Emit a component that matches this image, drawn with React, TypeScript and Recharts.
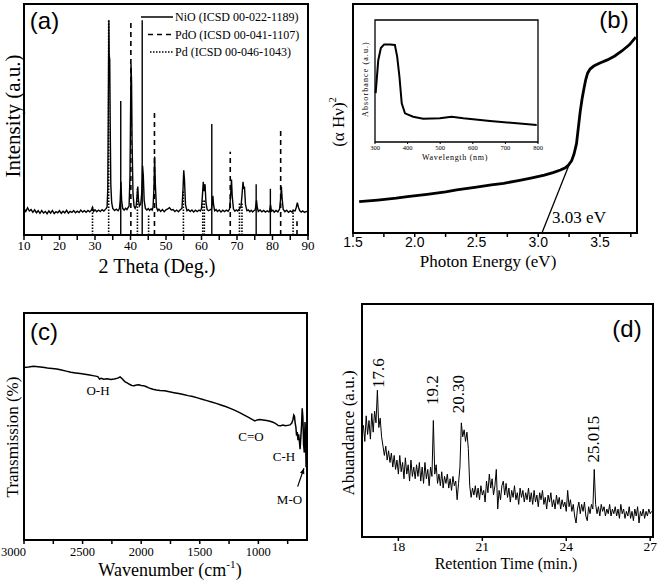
import React from "react";
import { LineChart, Line, XAxis, YAxis, ReferenceLine, ReferenceArea } from "recharts";

const serif = "'Liberation Serif', 'Times New Roman', serif";
const sans = "'Liberation Sans', Arial, sans-serif";

// ---- (a) XRD pattern: [2theta, intensity]
const xrdPattern: [number, number][] = [
  [10.0, 11.5], [10.5, 10.2], [11.0, 11.8], [11.5, 10.4], [12.0, 11.0], [12.5, 9.8], [13.0, 10.9], [13.5, 9.6],
  [14.0, 10.5], [14.5, 9.4], [15.0, 10.6], [15.5, 9.5], [16.0, 10.2], [16.5, 9.2], [17.0, 10.4], [17.5, 9.5],
  [18.0, 10.6], [18.5, 9.3], [19.0, 10.1], [19.5, 9.6], [20.0, 10.5], [20.5, 9.4], [21.0, 10.3], [21.5, 9.6],
  [22.0, 10.7], [22.5, 9.5], [23.0, 10.2], [23.5, 9.8], [24.0, 10.6], [24.5, 9.6], [25.0, 10.3], [25.5, 9.7],
  [26.0, 10.8], [26.5, 9.9], [27.0, 10.5], [27.5, 9.8], [28.0, 10.6], [28.5, 10.0], [29.0, 10.8], [29.3, 12.0],
  [29.6, 10.2], [30.0, 10.9], [30.5, 10.1], [31.0, 10.8], [31.5, 10.2], [32.0, 11.0], [32.5, 10.4], [33.0, 11.2],
  [33.4, 12], [33.6, 20], [33.75, 55], [33.9, 93], [34.0, 78], [34.15, 76], [34.3, 45], [34.45, 22], [34.7, 14],
  [35.0, 11.5], [35.5, 10.6], [36.0, 11.2], [36.5, 10.5], [36.9, 11.5], [37.1, 15], [37.3, 23], [37.5, 15],
  [37.8, 11.5], [38.2, 10.8], [38.6, 11.6], [39.0, 11.0], [39.3, 11.8], [39.6, 12.5], [39.85, 25], [40.0, 50],
  [40.15, 74], [40.3, 66], [40.45, 40], [40.7, 18], [41.0, 12.5], [41.3, 11.5], [41.6, 12.5], [41.85, 17],
  [42.05, 21], [42.25, 15], [42.5, 12.5], [42.7, 13], [42.9, 13.5], [43.15, 18], [43.4, 30], [43.6, 26],
  [43.85, 15], [44.2, 11.5], [44.6, 10.8], [45.0, 11.4], [45.4, 10.6], [45.8, 11.3], [46.1, 10.8], [46.35, 12],
  [46.6, 20], [46.8, 34], [47.0, 22], [47.3, 12], [47.7, 10.5], [48.0, 11.2], [48.5, 10.2], [49.0, 11.0],
  [49.5, 10.1], [50.0, 10.9], [50.5, 11.3], [51.0, 11.8], [51.5, 10.8], [52.0, 11.0], [52.5, 10.2], [53.0, 10.8],
  [53.5, 10.1], [54.0, 10.9], [54.5, 11.5], [54.8, 20], [55.0, 28], [55.2, 24], [55.5, 13], [55.9, 10.5],
  [56.3, 11.0], [56.8, 10.2], [57.3, 10.8], [57.8, 10.0], [58.3, 10.7], [58.8, 10.1], [59.3, 10.8], [59.7, 10.4],
  [60.0, 11.5], [60.3, 18], [60.5, 23], [60.7, 19], [61.0, 22], [61.25, 14], [61.6, 11], [62.0, 10.5],
  [62.4, 10.9], [62.8, 11.2], [63.05, 14], [63.2, 17], [63.4, 13], [63.7, 10.5], [64.1, 11], [64.5, 10.2],
  [65.0, 10.8], [65.5, 10.0], [66.0, 10.7], [66.5, 10.1], [67.0, 10.8], [67.5, 10.3], [67.9, 11.2], [68.2, 17],
  [68.45, 24], [68.65, 17], [69.0, 11.2], [69.4, 10.3], [69.8, 10.9], [70.2, 10.4], [70.6, 11.2], [71.1, 12],
  [71.4, 17], [71.7, 23], [71.9, 20], [72.1, 21], [72.4, 13], [72.8, 10.5], [73.2, 10.9], [73.6, 10.1],
  [74.0, 10.7], [74.4, 10.0], [74.8, 10.6], [75.1, 10.8], [75.35, 13], [75.5, 15], [75.7, 12], [76.0, 10.2],
  [76.5, 10.8], [77.0, 10.0], [77.5, 10.6], [78.0, 9.9], [78.5, 10.5], [79.0, 10.0], [79.2, 10.6], [79.45, 13],
  [79.7, 10.3], [80.1, 10.7], [80.5, 9.9], [81.0, 10.6], [81.5, 10.0], [82.0, 11.2], [82.3, 16], [82.5, 21],
  [82.7, 16], [83.0, 11.2], [83.5, 10.1], [84.0, 10.7], [84.5, 9.8], [85.0, 10.4], [85.5, 9.9], [86.0, 10.6],
  [86.4, 10.5], [86.7, 12], [87.0, 14], [87.3, 12], [87.7, 10.5], [88.1, 9.9], [88.5, 10.4], [89.0, 9.8],
  [89.5, 10.2], [90.0, 10.0],
];
const nioSticks: [number, number][] = [[37.25, 58], [43.3, 93], [62.9, 48], [75.4, 22], [79.4, 20]];
const pdoSticks: [number, number][] = [[40.1, 93], [46.75, 53], [68.1, 36], [82.3, 45], [86.9, 6]];
const pdSticks: [number, number][] = [
  [29.3, 12], [33.85, 93], [41.95, 20], [45.1, 9], [54.9, 19], [60.35, 15], [60.8, 15], [70.7, 14], [71.4, 14], [85.8, 11],
];
const xrdTicks = [10, 15, 20, 25, 30, 35, 40, 45, 50, 55, 60, 65, 70, 75, 80, 85, 90];

// ---- (b) Tauc plot and absorbance inset
const taucCurve: [number, number][] = [
  [1.55, 13.7], [1.7, 14.4], [1.85, 15.2], [1.94, 15.9], [2.1, 16.9], [2.25, 18.0], [2.34, 18.8], [2.5, 20.0],
  [2.62, 21.0], [2.72, 21.7], [2.85, 23.0], [2.95, 24.1], [3.05, 25.3], [3.12, 26.4], [3.18, 27.5], [3.22, 28.5],
  [3.245, 29.7], [3.27, 31.5], [3.29, 34.5], [3.31, 39], [3.325, 46], [3.34, 53], [3.355, 58.5], [3.37, 63],
  [3.385, 67], [3.4, 69.8], [3.42, 71.6], [3.45, 72.9], [3.5, 74.2], [3.56, 75.6], [3.62, 77.3], [3.68, 79.6],
  [3.74, 82.3], [3.79, 85.5],
];
const bandGapFit: [number, number][] = [[3.03, 0], [3.255, 30.5]];
const energyTicks = [1.5, 1.75, 2.0, 2.25, 2.5, 2.75, 3.0, 3.25, 3.5, 3.75];
const absorbance: [number, number][] = [
  [302, 40], [310, 67], [318, 77], [328, 80], [346, 80], [361, 79.5], [368, 70], [375, 53.5], [382, 31.7],
  [392, 23.5], [417, 20.7], [448, 19.1], [499, 19.4], [535, 20.7], [571, 19.4], [653, 17.2], [735, 15.3], [796, 13.9],
];
const wavelengthTicks = [300, 400, 500, 600, 700, 800];

// ---- (c) FTIR: [wavenumber, transmission]
const ftir: [number, number][] = [
  [3000, 76.0], [2960, 76.2], [2920, 76.5], [2880, 76.3], [2840, 76.1], [2800, 75.8], [2760, 75.6], [2720, 75.3],
  [2680, 74.9], [2640, 74.4], [2600, 73.9], [2560, 73.6], [2520, 73.3], [2480, 73.0], [2440, 72.7], [2400, 72.3],
  [2370, 72.0], [2355, 70.9], [2340, 71.2], [2320, 70.8], [2290, 71.0], [2260, 70.7], [2230, 70.9], [2200, 71.3],
  [2180, 71.8], [2160, 70.9], [2140, 69.8], [2120, 69.2], [2100, 68.6], [2080, 68.1], [2060, 68.0], [2040, 68.3],
  [2020, 68.4], [2000, 68.1], [1980, 68.0], [1960, 67.6], [1940, 67.1], [1920, 66.7], [1900, 66.4], [1870, 66.1],
  [1840, 65.9], [1800, 65.7], [1760, 65.3], [1720, 64.9], [1680, 64.5], [1640, 64.1], [1600, 63.6], [1560, 63.2],
  [1520, 62.6], [1480, 62.0], [1440, 61.4], [1400, 60.8], [1360, 60.2], [1320, 59.5], [1280, 58.8], [1240, 58.0],
  [1200, 57.1], [1160, 56.1], [1120, 55.0], [1080, 53.9], [1050, 53.0], [1030, 52.5], [1010, 52.9], [990, 53.1],
  [960, 52.9], [930, 52.6], [900, 52.3], [870, 51.8], [850, 51.2], [830, 50.4], [810, 50.3], [790, 50.6],
  [770, 50.3], [750, 50.5], [730, 50.7], [715, 51.5], [705, 53.0], [698, 55.0], [692, 54.5], [686, 51.5],
  [680, 49.8], [674, 46.0], [668, 47.5], [662, 44.0], [656, 46.5], [650, 43.5], [644, 40.0], [638, 45.0],
  [632, 50.0], [626, 58.0], [620, 54.0], [614, 42.0], [608, 38.5], [602, 52.0], [597, 45.0], [593, 32.0],
];
const wavenumberTicks = [3000, 2750, 2500, 2250, 2000, 1750, 1500, 1250, 1000, 750];
const moArrow: [number, number][] = [[665, 23.5], [611, 31.6]];

// ---- (d) GC-MS chromatogram, sampled every 0.05 min from 16.75 min
const gcStart = 16.75;
const gcStep = 0.05;
const gcAbundance = [
  48, 41, 52, 44, 50, 42, 53, 45, 54, 49, 63, 47, 51, 43, 39, 35, 39, 33, 37, 32,
  36, 30, 35, 29, 33, 27, 35, 28, 32, 25, 34, 27, 31, 24, 33, 26, 30, 25, 31, 26,
  32, 24, 30, 23, 32, 25, 29, 22, 30, 26, 50, 27, 31, 23, 27, 22, 28, 21, 26, 23,
  27, 21, 25, 20, 26, 22, 24, 16, 23, 30, 49, 43, 46, 41, 45, 38, 22, 17, 21, 18,
  22, 17, 21, 16, 22, 18, 20, 15, 24, 19, 27, 21, 25, 18, 22, 29, 12, 20, 16, 22,
  24, 18, 23, 17, 21, 15, 20, 17, 22, 16, 19, 14, 21, 17, 20, 15, 19, 16, 21, 15,
  19, 14, 20, 15, 18, 13, 19, 16, 20, 14, 17, 12, 18, 15, 19, 13, 16, 12, 18, 14,
  17, 12, 16, 13, 15, 11, 20, 13, 16, 11, 14, 9, 6, 12, 15, 10, 14, 11, 15, 9,
  7, 13, 10, 14, 12, 29, 14, 10, 13, 9, 14, 11, 13, 9, 12, 10, 14, 9, 12, 10,
  13, 9, 12, 8, 14, 10, 12, 8, 11, 9, 13, 8, 11, 7, 12, 9, 13, 6, 11, 9,
  12, 8, 11, 9, 12, 10, 11,
];
const retentionTicks = [18, 21, 24, 27];

const toPts = (a: [number, number][]) => a.map(([x, y]) => ({ x, y }));
const gcPts = gcAbundance.map((y, i) => ({ x: +(gcStart + i * gcStep).toFixed(2), y }));

const tickLine = { stroke: "#000", strokeWidth: 1.5 };

function Txt({ x, y, size, font = serif, rotate = 0, spacing = 0, children }: any) {
  return (
    <div
      style={{
        position: "absolute",
        left: x,
        top: y,
        transform: `translate(-50%, -50%) rotate(${rotate}deg)`,
        fontSize: size,
        fontFamily: font,
        lineHeight: 1,
        whiteSpace: "nowrap",
        color: "#000",
        letterSpacing: spacing,
      }}
    >
      {children}
    </div>
  );
}

function Sup({ children }: any) {
  return <sup style={{ fontSize: "0.62em", lineHeight: 0, verticalAlign: "0.7em" }}>{children}</sup>;
}

// plot frame as four bars around a plot area (page px)
function Frame({ l, t, r, b, w = 2, c = "#000" }: any) {
  const bar = (x: number, y: number, wd: number, ht: number, k: string) => (
    <div key={k} style={{ position: "absolute", left: x, top: y, width: wd, height: ht, background: c, zIndex: 10 }} />
  );
  return (
    <>
      {bar(l - w / 2, t - w / 2, r - l + w, w, "t")}
      {bar(l - w / 2, b - w / 2, r - l + w, w, "b")}
      {bar(l - w / 2, t - w / 2, w, b - t + w, "l")}
      {bar(r - w / 2, t - w / 2, w, b - t + w, "r")}
    </>
  );
}

function arrowShape(p: any) {
  const { x1, y1, x2, y2 } = p;
  const a = Math.atan2(y2 - y1, x2 - x1);
  const L = 6;
  const l = [x2 - L * Math.cos(a - 0.4), y2 - L * Math.sin(a - 0.4)];
  const r = [x2 - L * Math.cos(a + 0.4), y2 - L * Math.sin(a + 0.4)];
  return (
    <g>
      <line x1={x1} y1={y1} x2={x2} y2={y2} stroke="#000" strokeWidth={1.2} />
      <path d={`M${x2},${y2}L${l[0]},${l[1]}L${r[0]},${r[1]}Z`} fill="#000" />
    </g>
  );
}

function XrdPanel() {
  const stick = (s: [number, number], dash: string | undefined, w: number, key: string) => (
    <ReferenceLine
      key={key}
      segment={[{ x: s[0], y: 0 }, { x: s[0], y: s[1] }]}
      stroke="#000"
      strokeWidth={w}
      strokeDasharray={dash}
    />
  );
  return (
    <div style={{ position: "absolute", left: 0, top: 0 }}>
      <LineChart width={330} height={290} margin={{ top: 4, right: 22, bottom: 0, left: 24 }}>
        <XAxis
          type="number"
          dataKey="x"
          domain={[10, 90]}
          ticks={xrdTicks}
          interval={0}
          height={55}
          axisLine={false}
          tickLine={tickLine}
          tickSize={5}
          tickMargin={1}
          tick={{ fontSize: 13, fill: "#000", fontFamily: serif }}
          tickFormatter={(v) => (v % 10 === 0 ? String(v) : "")}
        />
        <YAxis hide type="number" domain={[0, 100]} />
        {pdSticks.map((s, i) => stick(s, "1.5 1.5", 1.6, "pd" + i))}
        {pdoSticks.map((s, i) => stick(s, "5 4", 1.6, "pdo" + i))}
        {nioSticks.map((s, i) => stick(s, undefined, 1.4, "nio" + i))}
        <Line data={toPts(xrdPattern)} dataKey="y" stroke="#000" strokeWidth={1.4} dot={false} isAnimationActive={false} />
      </LineChart>
    </div>
  );
}

function XrdLegend() {
  const rows = [
    { label: "NiO (ICSD 00-022-1189)", y: 17, x1: 141, dash: undefined },
    { label: "PdO (ICSD 00-041-1107)", y: 34.5, x1: 148, dash: "5 4" },
    { label: "Pd (ICSD 00-046-1043)", y: 52, x1: 150, dash: "1.5 1.5" },
  ];
  return (
    <svg style={{ position: "absolute", left: 0, top: 0 }} width={330} height={70}>
      {rows.map((r) => (
        <g key={r.label}>
          <line x1={r.x1} x2={173} y1={r.y} y2={r.y} stroke="#000" strokeWidth={1.5} strokeDasharray={r.dash} />
          <text x={175} y={r.y + 4} fontSize={12} fontFamily={serif} fill="#000">
            {r.label}
          </text>
        </g>
      ))}
    </svg>
  );
}

function TaucPanel() {
  return (
    <div style={{ position: "absolute", left: 330, top: 0 }}>
      <LineChart width={331} height={290} margin={{ top: 4, right: 24, bottom: 0, left: 23 }}>
        <XAxis
          type="number"
          dataKey="x"
          domain={[1.5, 3.8]}
          ticks={energyTicks}
          interval={0}
          height={57}
          axisLine={false}
          tickLine={tickLine}
          tickSize={4}
          tickMargin={0}
          tick={{ fontSize: 14, fill: "#000", fontFamily: sans }}
          tickFormatter={(v) => (Math.abs(v * 2 - Math.round(v * 2)) < 1e-6 ? v.toFixed(1) : "")}
        />
        <YAxis hide type="number" domain={[0, 100]} />
        <Line data={toPts(bandGapFit)} dataKey="y" stroke="#000" strokeWidth={1.3} dot={false} isAnimationActive={false} />
        <Line data={toPts(taucCurve)} dataKey="y" stroke="#000" strokeWidth={2.8} dot={false} isAnimationActive={false} />
      </LineChart>
    </div>
  );
}

function InsetPanel() {
  return (
    <div style={{ position: "absolute", left: 360, top: 14 }}>
      <LineChart width={190} height={150} margin={{ top: 6, right: 12, bottom: 0, left: 15 }}>
        <XAxis
          type="number"
          dataKey="x"
          domain={[300, 800]}
          ticks={wavelengthTicks}
          interval={0}
          height={22}
          axisLine={false}
          tickLine={{ stroke: "#000", strokeWidth: 1 }}
          tickSize={2}
          tickMargin={1}
          tick={{ fontSize: 6.5, fill: "#000", fontFamily: serif }}
        />
        <YAxis hide type="number" domain={[0, 100]} />
        <Line data={toPts(absorbance)} dataKey="y" stroke="#000" strokeWidth={2} dot={false} isAnimationActive={false} />
        <ReferenceArea x1={300} x2={800} y1={0} y2={100} stroke="#000" strokeWidth={1.3} fill="none" fillOpacity={0} />
      </LineChart>
    </div>
  );
}

function FtirPanel() {
  const tick = (p: any) => {
    const v = p.payload.value;
    const show = v % 500 === 0;
    return (
      <text
        x={v === 3000 ? p.x + 2 : p.x}
        y={p.y}
        dy="0.71em"
        textAnchor={v === 3000 ? "end" : "middle"}
        fontSize={12.5}
        fontFamily={serif}
        fill="#000"
      >
        {show ? v : ""}
      </text>
    );
  };
  return (
    <div style={{ position: "absolute", left: 0, top: 290 }}>
      <LineChart width={330} height={292} margin={{ top: 23, right: 23, bottom: 0, left: 24 }}>
        <XAxis
          type="number"
          dataKey="x"
          reversed
          domain={[585, 3000]}
          ticks={wavenumberTicks}
          interval={0}
          height={42}
          axisLine={false}
          tickLine={tickLine}
          tickSize={4}
          tickMargin={3}
          tick={tick}
        />
        <YAxis hide type="number" domain={[0, 100]} />
        <Line data={toPts(ftir)} dataKey="y" stroke="#000" strokeWidth={1.5} dot={false} isAnimationActive={false} />
        <ReferenceLine
          segment={[{ x: moArrow[0][0], y: moArrow[0][1] }, { x: moArrow[1][0], y: moArrow[1][1] }]}
          shape={arrowShape}
        />
      </LineChart>
    </div>
  );
}

function GcPanel() {
  return (
    <div style={{ position: "absolute", left: 330, top: 290 }}>
      <LineChart width={331} height={292} margin={{ top: 14, right: 8, bottom: 0, left: 32 }}>
        <XAxis
          type="number"
          dataKey="x"
          domain={[16.7, 27.1]}
          ticks={retentionTicks}
          interval={0}
          height={45}
          axisLine={false}
          tickLine={tickLine}
          tickSize={4}
          tickMargin={0}
          tick={{ fontSize: 13.5, fill: "#000", fontFamily: serif }}
        />
        <YAxis hide type="number" domain={[0, 100]} />
        <Line data={gcPts} dataKey="y" stroke="#000" strokeWidth={1} dot={false} isAnimationActive={false} />
      </LineChart>
    </div>
  );
}

export default function App() {
  return (
    <div style={{ position: "absolute", left: 0, top: 0, width: 661, height: 582, background: "#fff", overflow: "hidden" }}>
      <XrdPanel />
      <TaucPanel />
      <InsetPanel />
      <FtirPanel />
      <GcPanel />
      <XrdLegend />

      <Frame l={24} t={4} r={308} b={235} />
      <Frame l={353} t={4} r={637} b={233} />
      <Frame l={24} t={313} r={307} b={540} />
      <Frame l={362} t={304} r={653} b={537} />

      <Txt x={44.5} y={21} size={24} font={sans}>(a)</Txt>
      <Txt x={13} y={116} size={21} rotate={-90}>Intensity (a.u.)</Txt>
      <Txt x={157} y={266} size={20}>2 Theta (Deg.)</Txt>

      <Txt x={614} y={20} size={24} font={sans}>(b)</Txt>
      <Txt x={338} y={122} size={17} rotate={-90}>
        (α Hν)<Sup>2</Sup>
      </Txt>
      <Txt x={488} y={261} size={17}>Photon Energy (eV)</Txt>
      <Txt x={579} y={217} size={17}>3.03 eV</Txt>
      <Txt x={366} y={79} size={8} rotate={-90} spacing={1.1}>Absorbance (a.u.)</Txt>
      <Txt x={455} y={158} size={8} spacing={0.7}>Wavelength (nm)</Txt>

      <Txt x={44} y={332} size={24} font={sans}>(c)</Txt>
      <Txt x={12} y={437} size={17} rotate={-90}>Transmission (%)</Txt>
      <Txt x={170} y={570} size={18}>
        Wavenumber (cm<Sup>-1</Sup>)
      </Txt>
      <Txt x={98} y={390} size={13}>O-H</Txt>
      <Txt x={251} y={436} size={13}>C=O</Txt>
      <Txt x={284} y={456} size={13}>C-H</Txt>
      <Txt x={289.5} y={499} size={13}>M-O</Txt>

      <Txt x={627} y={329} size={24} font={sans}>(d)</Txt>
      <Txt x={348} y={433} size={17} rotate={-90}>Abuandance (a.u.)</Txt>
      <Txt x={506} y={564} size={16}>Retention Time (min.)</Txt>
      <Txt x={378} y={373} size={17} rotate={-90}>17.6</Txt>
      <Txt x={432} y={390} size={17} rotate={-90}>19.2</Txt>
      <Txt x={458} y={394} size={17} rotate={-90}>20.30</Txt>
      <Txt x={593} y={439} size={17} rotate={-90}>25.015</Txt>
    </div>
  );
}
